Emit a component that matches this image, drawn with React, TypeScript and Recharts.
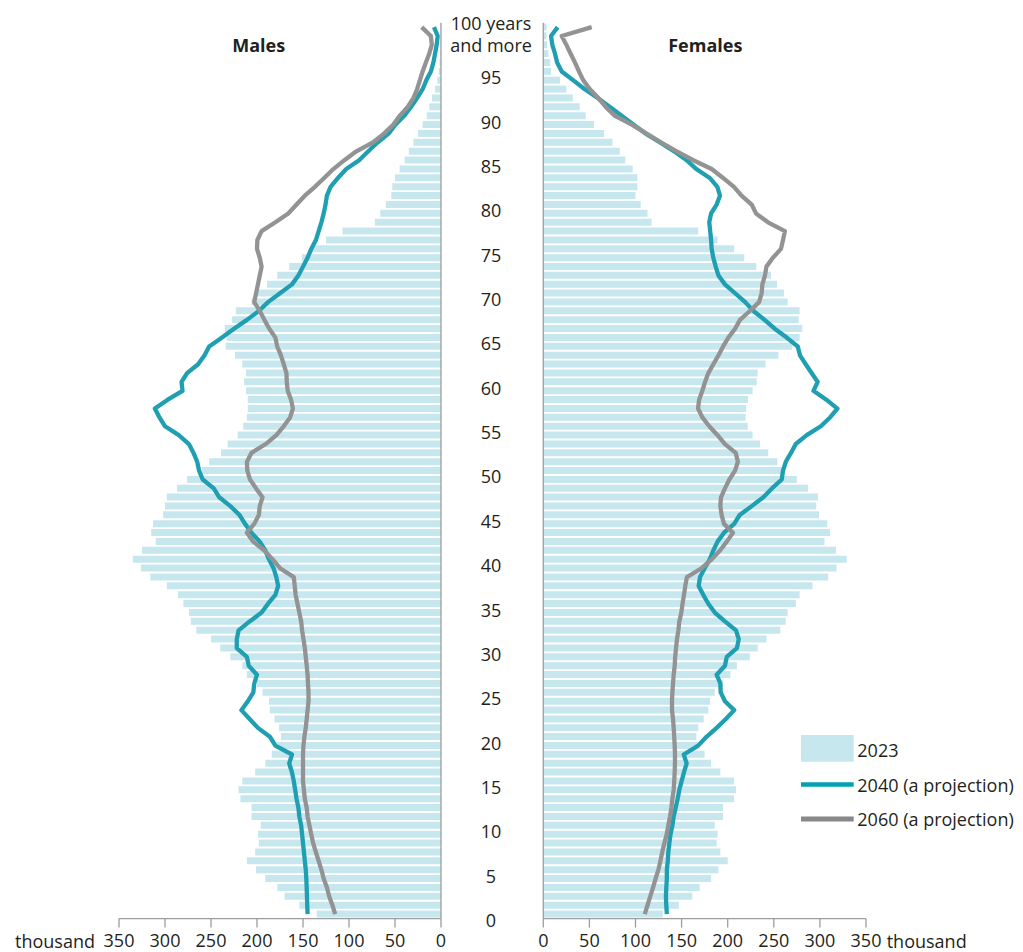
import React from 'react';
import { ComposedChart, Bar, Line, XAxis, YAxis } from 'recharts';

// Age categories 0..100 ("100" = 100 years and more)
const ages: number[] = Array.from({ length: 101 }, (_, i) => i);

// Thousand persons, index = age
const male2023: number[] = [
  135, 154, 170, 178, 191, 201, 211, 202, 198, 199,
  196, 206, 206, 218, 220, 216, 202, 191, 184, 179,
  174, 176, 181, 186, 187, 194, 200, 211, 216, 229,
  240, 250, 266, 272, 274, 280, 286, 298, 316, 326,
  335, 325, 310, 315, 313, 302, 300, 298, 287, 276,
  260, 252, 239, 232, 221, 215, 211, 210, 210, 212,
  214, 212, 216, 224, 234, 233, 235, 227, 223, 206,
  199, 189, 178, 165, 151, 140, 125, 107, 72, 66,
  60, 54, 53, 50, 45, 39.5, 35, 30, 25, 20,
  15.5, 12.7, 9.8, 6.5, 4, 2.5, 1.6, 1, 0.6, 0.4,
  0.4,
];

const female2023: number[] = [
  129.5, 147, 161.6, 169.6, 182, 190, 200, 192, 188, 189,
  186, 195, 195, 207, 209, 207, 192, 182, 175, 168,
  166, 168, 174, 179, 181, 186, 195, 203, 210, 224,
  232.5, 242, 257, 263, 265, 274, 278, 292, 309, 318,
  329, 317.5, 305, 311, 308, 299, 296, 298, 287, 275,
  260, 254, 244, 235, 227, 221.7, 219.5, 220, 222, 227,
  231.5, 232.5, 241, 255, 270, 278, 281, 277, 278, 265,
  261, 253.5, 247, 231, 218, 207, 189, 168, 117.5, 113,
  105.6, 100, 102, 102, 97, 89, 83, 75, 66, 55,
  46, 39.5, 32, 25, 18, 8.5, 7.5, 5.5, 4, 3.5,
  3.5,
];

const male2040: number[] = [
  145, 145.4, 145.7, 146, 146.4, 147, 148, 149, 150, 151,
  152, 154, 155, 157, 158.5, 160, 162, 165, 162, 180,
  186, 199, 208, 217, 210, 204, 203, 200, 209, 211,
  222, 222, 220, 208, 195, 188, 180, 177, 179, 182,
  187, 191, 197, 206, 213, 219, 229, 241, 247, 259,
  263, 265, 269, 274, 285, 300, 306, 311, 297, 281,
  282, 276, 264, 257, 252, 238, 225, 211, 198, 188,
  175, 162, 155, 150, 145, 141, 136, 133, 130, 127.5,
  125.5, 124, 120, 112, 103, 89, 79, 69, 57, 49.6,
  40, 32.6, 26, 20, 16, 11, 8.3, 6.5, 4.7, 3.6,
  7.6,
];

const female2040: number[] = [
  134, 133.4, 133, 133.4, 134, 134, 135, 135.6, 136.7, 138,
  140, 141.4, 143.6, 145.7, 147.5, 150, 152.6, 155.5, 152.3, 168,
  177, 188, 198, 207, 197, 192.4, 192, 188, 197, 199,
  210, 212, 209, 197, 186, 179, 173.5, 168.5, 170, 175,
  180.5, 184.4, 189, 196, 207, 213, 226, 238.6, 248, 258.6,
  260, 263, 268.6, 273.8, 285.7, 301, 311, 319, 307, 293,
  297.6, 291, 284.6, 278.4, 276, 264, 251, 240, 228, 219,
  208, 197, 190, 187, 184.4, 182.6, 182, 181, 180, 182,
  188, 191.6, 188.8, 180.5, 166, 155.5, 142, 126.6, 111, 98,
  85, 72.3, 59, 45, 32.6, 20, 15, 12.7, 9.8, 8.4,
  15.6,
];

const male2060: number[] = [
  115, 118, 121.5, 124, 127.5, 130, 133, 136, 139, 141,
  143, 145, 146, 148, 149, 150, 150, 150, 150, 149.5,
  148.5, 147, 146, 145, 144, 144, 144.6, 145, 146, 147,
  148, 149.5, 151, 152, 154, 156, 158, 159, 160, 175,
  183, 192, 204, 211, 203, 198, 197, 194, 201, 207.6,
  210.5, 211, 206, 190.5, 179, 171, 164, 161, 163, 166.6,
  167.6, 168, 171, 174, 178, 180, 186.6, 192, 197, 203,
  201, 199, 197, 195, 197, 200, 199.6, 195, 180, 166,
  157, 148, 137, 127, 117, 105, 92, 74, 62, 52,
  45, 36.2, 30, 26, 23, 20, 16.5, 12.8, 10, 11,
  21,
];

const female2060: number[] = [
  110, 113, 116, 119, 121.8, 124.8, 127, 129, 131.3, 133.8,
  135.6, 137.4, 138.9, 140, 141.4, 142, 142.5, 142.8, 142.8, 142.5,
  142, 141.4, 140.7, 139.6, 139.6, 140, 140.7, 141.4, 142.5, 143,
  144, 145, 146.5, 147.5, 149.7, 151, 152.6, 154, 155.8, 171.7,
  182.6, 191.6, 199, 205.7, 196, 193.4, 192, 192.7, 197, 201.8,
  208, 211, 208.7, 197, 189, 180, 172.5, 167.8, 169, 172.5,
  175.4, 179, 184.4, 190, 195, 200.7, 208, 213.3, 224, 234,
  236.8, 237.6, 240.4, 242, 249, 257.8, 260, 262, 243.7, 230.7,
  226, 215, 206.8, 195, 182.6, 162.7, 144.7, 127.6, 112, 96,
  77.7, 67.7, 59.7, 50.6, 43.4, 38.7, 34.4, 29.7, 25, 20,
  52.5,
];

const xTicks: number[] = [0, 50, 100, 150, 200, 250, 300, 350];
const topAgeLabel: string[] = ['100 years', 'and more'];
const titles: string[] = ['Males', 'Females'];
const unitLabel = 'thousand';
const legendLabels: string[] = ['2023', '2040 (a projection)', '2060 (a projection)'];

const FONT = '"Open Sans", "Noto Sans", sans-serif';
const TEXT = '#231f20';
const BAR = '#c7e7ee';
const TEAL = '#1f9fb1';
const GRAY = '#939393';
const AXIS = '#9d9d9d';

const data = ages.map((age, i) => ({
  age,
  m23: male2023[i],
  f23: female2023[i],
  m40: male2040[i],
  f40: female2040[i],
  m60: male2060[i],
  f60: female2060[i],
}));

const renderAgeTick = (props: any) => {
  const { y, payload } = props;
  const v = payload.value as number;
  if (v === 100) {
    return (
      <text textAnchor="middle" fill={TEXT} fontSize={18} fontFamily={FONT}>
        <tspan x={50} y={y - 3.5} dy="0.35em">{topAgeLabel[0]}</tspan>
        <tspan x={50} y={y + 19} dy="0.35em">{topAgeLabel[1]}</tspan>
      </text>
    );
  }
  if (v % 5 !== 0) return <g />;
  return (
    <text x={50} y={y + 6.5} dy="0.35em" textAnchor="middle" fill={TEXT} fontSize={18} fontFamily={FONT}>
      {v}
    </text>
  );
};

const tickStyle = { fill: TEXT, fontSize: 18, fontFamily: FONT };

export default function App() {
  return (
    <div style={{ position: 'absolute', left: 0, top: 0, width: 1023, height: 952, background: '#fff', fontFamily: FONT }}>
      <div style={{ position: 'absolute', left: 0, top: 0 }}>
        <ComposedChart
          layout="vertical"
          width={463}
          height={952}
          data={data}
          margin={{ top: 22.7, right: 0, bottom: 3.4, left: 119 }}
          barCategoryGap="9%"
        >
          <XAxis
            type="number"
            domain={[0, 350]}
            ticks={xTicks}
            reversed
            height={30}
            tickSize={9}
            tickMargin={7}
            interval={0}
            axisLine={{ stroke: AXIS, strokeWidth: 1.3 }}
            tickLine={{ stroke: AXIS, strokeWidth: 1.3 }}
            tick={tickStyle}
          />
          <YAxis
            type="category"
            dataKey="age"
            reversed
            orientation="right"
            width={22}
            interval={0}
            tick={false}
            tickLine={false}
            axisLine={{ stroke: AXIS, strokeWidth: 1.3 }}
          />
          <Bar dataKey="m23" fill={BAR} isAnimationActive={false} />
          <Line dataKey="m40" type="linear" stroke={TEAL} strokeWidth={4.3} dot={false} activeDot={false} strokeLinejoin="round" isAnimationActive={false} />
          <Line dataKey="m60" type="linear" stroke={GRAY} strokeWidth={4.3} dot={false} activeDot={false} strokeLinejoin="round" isAnimationActive={false} />
        </ComposedChart>
      </div>
      <div style={{ position: 'absolute', left: 441, top: 0 }}>
        <ComposedChart
          layout="vertical"
          width={582}
          height={952}
          data={data}
          margin={{ top: 22.7, right: 157, bottom: 3.4, left: 0 }}
          barCategoryGap="9%"
        >
          <XAxis
            type="number"
            domain={[0, 350]}
            ticks={xTicks}
            height={30}
            tickSize={9}
            tickMargin={7}
            interval={0}
            axisLine={{ stroke: AXIS, strokeWidth: 1.3 }}
            tickLine={{ stroke: AXIS, strokeWidth: 1.3 }}
            tick={tickStyle}
          />
          <YAxis
            type="category"
            dataKey="age"
            reversed
            orientation="left"
            width={102.3}
            interval={0}
            tick={renderAgeTick}
            tickLine={false}
            axisLine={{ stroke: AXIS, strokeWidth: 1.3 }}
          />
          <Bar dataKey="f23" fill={BAR} isAnimationActive={false} />
          <Line dataKey="f40" type="linear" stroke={TEAL} strokeWidth={4.3} dot={false} activeDot={false} strokeLinejoin="round" isAnimationActive={false} />
          <Line dataKey="f60" type="linear" stroke={GRAY} strokeWidth={4.3} dot={false} activeDot={false} strokeLinejoin="round" isAnimationActive={false} />
        </ComposedChart>
      </div>
      <svg
        width={1023}
        height={952}
        style={{ position: 'absolute', left: 0, top: 0, pointerEvents: 'none' }}
        fontFamily={FONT}
      >
        <text x={258.7} y={52} textAnchor="middle" fontWeight="bold" fontSize={18} fill={TEXT}>{titles[0]}</text>
        <text x={705.3} y={52} textAnchor="middle" fontWeight="bold" fontSize={18} fill={TEXT}>{titles[1]}</text>
        <text x={95} y={947.7} textAnchor="end" fontSize={18} fill={TEXT}>{unitLabel}</text>
        <text x={886.7} y={947.7} textAnchor="start" fontSize={18} fill={TEXT}>{unitLabel}</text>
        <rect x={801} y={735} width={52.7} height={26.7} fill={BAR} />
        <text x={857.3} y={756.7} fontSize={18} fill={TEXT}>{legendLabels[0]}</text>
        <line x1={801} x2={853.7} y1={784.5} y2={784.5} stroke="#00a2b4" strokeWidth={4.5} />
        <text x={857.3} y={791.7} fontSize={18} fill={TEXT}>{legendLabels[1]}</text>
        <line x1={801} x2={853.7} y1={819} y2={819} stroke="#88888b" strokeWidth={5} />
        <text x={857.3} y={826} fontSize={18} fill={TEXT}>{legendLabels[2]}</text>
      </svg>
    </div>
  );
}
